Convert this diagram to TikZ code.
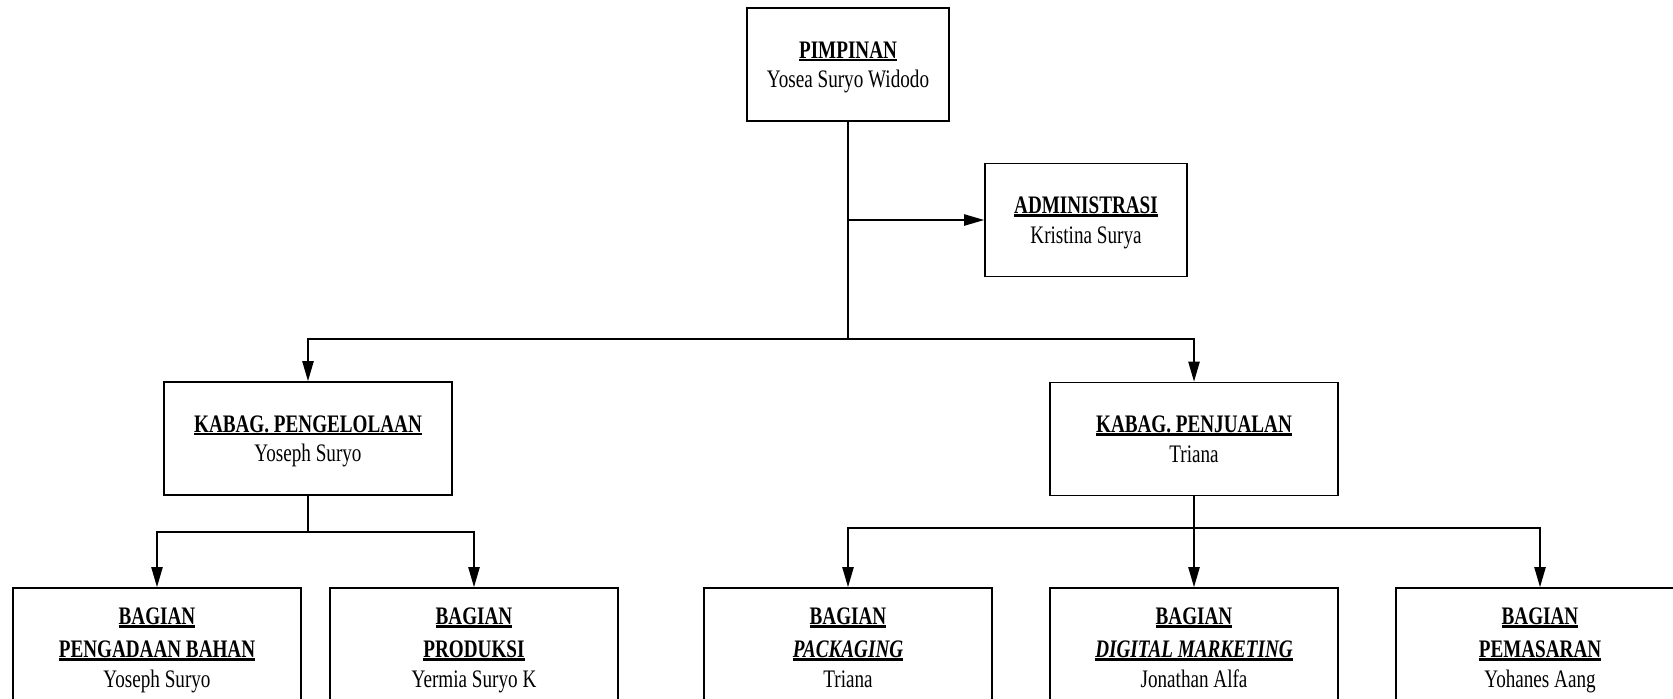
\documentclass[tikz,border=0pt]{standalone}
\usepackage{fontspec}
\setmainfont{Liberation Serif}[FakeStretch=0.76]
\usetikzlibrary{arrows.meta}
\newcommand\hd[1]{\leavevmode\setbox0\hbox{#1}\rlap{\raisebox{-1.5pt}{\rule{\wd0}{1.1pt}}}\box0}
\newcommand\fstr{\rule{0pt}{11.25pt}}
\newcommand\lstr{\rule[-3pt]{0pt}{3pt}}
\begin{document}
\begin{tikzpicture}[x=0.5pt,y=-0.5pt,
  box/.style={draw, line width=0.85pt, rectangle, align=center, inner sep=0pt,
    minimum height=56.5pt, font=\fontsize{12.6}{14.75}\selectfont},
  narrow/.style={box, minimum width=101pt},
  wide/.style={box, minimum width=144pt},
  low/.style={wide, minimum height=59.5pt},
  conn/.style={line width=0.85pt},
  arr/.style={conn, -{Triangle[length=10pt,width=5.6pt]}}]
\useasboundingbox (0,0) rectangle (1673,698);
\clip (0,0) rectangle (1673,698);
\node[narrow] (pim) at (848,64.5) {\fstr\hd{\bfseries PIMPINAN}\\Yosea Suryo Widodo\lstr};
\node[narrow] (adm) at (1086,220) {\fstr\hd{\bfseries ADMINISTRASI}\\Kristina Surya\lstr};
\node[wide] (kp) at (308,438.5) {\fstr\hd{\bfseries KABAG. PENGELOLAAN}\\Yoseph Suryo\lstr};
\node[wide] (kj) at (1194,439) {\fstr\hd{\bfseries KABAG. PENJUALAN}\\Triana\lstr};
\node[low] (b1) at (157,647.5) {\fstr\hd{\bfseries BAGIAN}\\[1.75pt]\hd{\bfseries PENGADAAN BAHAN}\\Yoseph Suryo\lstr};
\node[low] (b2) at (474,647.5) {\fstr\hd{\bfseries BAGIAN}\\[1.75pt]\hd{\bfseries PRODUKSI}\\Yermia Suryo K\lstr};
\node[low] (b3) at (848,647.5) {\fstr\hd{\bfseries BAGIAN}\\[1.75pt]\hd{\bfseries\itshape PACKAGING}\\Triana\lstr};
\node[low] (b4) at (1194,647.5) {\fstr\hd{\bfseries BAGIAN}\\[1.75pt]\hd{\bfseries\itshape DIGITAL MARKETING}\\Jonathan Alfa\lstr};
\node[low] (b5) at (1540,647.5) {\fstr\hd{\bfseries BAGIAN}\\[1.75pt]\hd{\bfseries PEMASARAN}\\Yohanes Aang\lstr};
\coordinate (ja) at (848,220);
\coordinate (j1) at (848,339);
\coordinate (j2) at (308,532);
\coordinate (j3) at (1194,528);
\draw[conn] (pim.south) -- (j1);
\draw[arr] (ja) -- (adm.west);
\draw[arr] (j1) -| (kp.north);
\draw[arr] (j1) -| (kj.north);
\draw[conn] (kp.south) -- (j2);
\draw[arr] (j2) -| (b1.north);
\draw[arr] (j2) -| (b2.north);
\draw[arr] (kj.south) -- (b4.north);
\draw[arr] (j3) -| (b3.north);
\draw[arr] (j3) -| (b5.north);
\end{tikzpicture}
\end{document}
